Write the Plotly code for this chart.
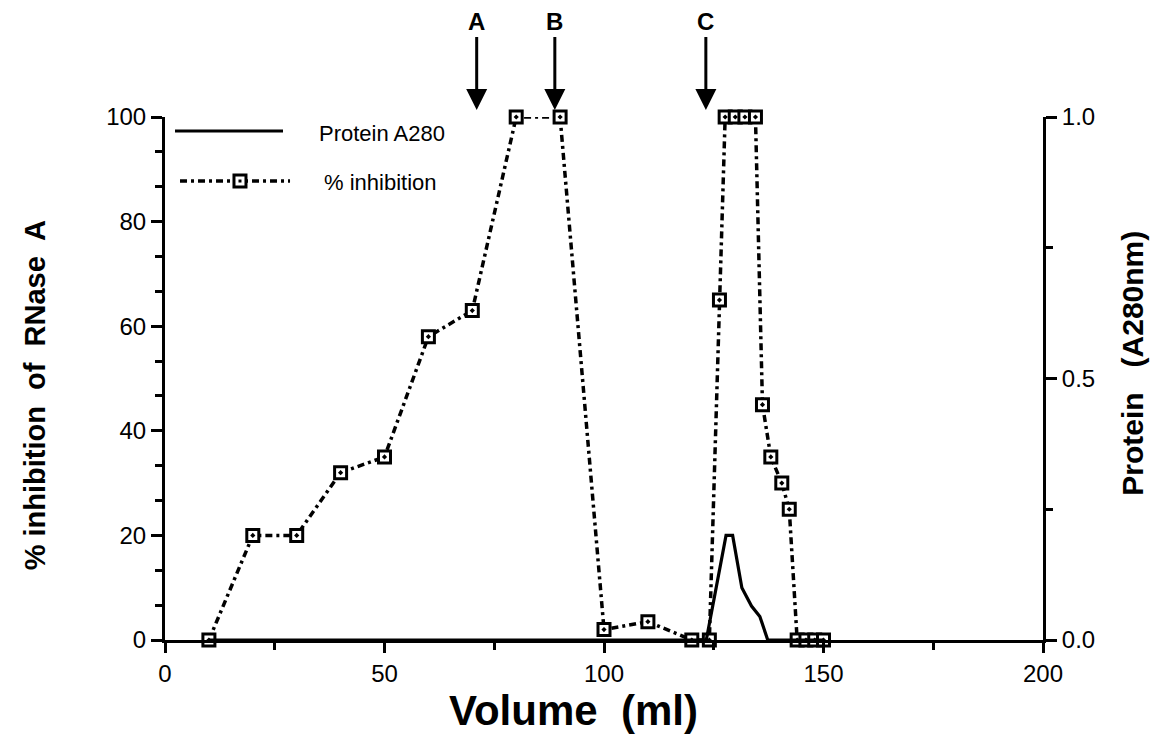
import plotly.graph_objects as go

# ---- data ----
inhib_x = [10, 20, 30, 40, 50, 60, 70, 80, 90, 100, 110, 120, 124, 126.3, 127.6, 129.9, 132.1, 134.5,
           136.1, 138, 140.5, 142.2, 144, 146, 148, 150]
inhib_y = [0, 20, 20, 32, 35, 58, 63, 100, 100, 2, 3.5, 0, 0, 65, 100, 100, 100, 100,
           45, 35, 30, 25, 0, 0, 0, 0]

protein_x = [10, 123.3, 127.8, 129.3, 131.4, 133.6, 135.5, 137.3, 150]
protein_y = [0, 0, 0.2, 0.2, 0.1, 0.065, 0.045, 0, 0]

arrow_x = [71, 88.8, 123.2]
arrow_labels = ["A", "B", "C"]

x_ticks = [0, 50, 100, 150, 200]
y_ticks = [0, 20, 40, 60, 80, 100]
y2_ticks = [0, 0.5, 1.0]

FONT = "Liberation Sans"
BLACK = "black"
DASH = "7px,4px,3px,4px"

fig = go.Figure()

fig.add_trace(go.Scatter(
    x=protein_x, y=protein_y, mode="lines", yaxis="y2",
    line=dict(color=BLACK, width=3.2), cliponaxis=False, showlegend=False,
    name="Protein A280"))

fig.add_trace(go.Scatter(
    x=inhib_x, y=inhib_y, mode="lines+markers",
    line=dict(color=BLACK, width=3.5, dash=DASH),
    marker=dict(symbol="square-dot", size=12, color="white",
                line=dict(color=BLACK, width=3)),
    cliponaxis=False, showlegend=False, name="% inhibition"))

axis_common = dict(showgrid=False, zeroline=False, showline=True, linecolor=BLACK,
                   linewidth=3, ticks="outside", tickcolor=BLACK, tickwidth=2.5,
                   tickfont=dict(family=FONT, size=24, color=BLACK))

fig.update_layout(
    width=1153, height=745,
    margin=dict(l=165, r=110, t=117, b=105),
    paper_bgcolor="white", plot_bgcolor="white",
    xaxis=dict(range=[0, 200], tickvals=x_ticks, ticklen=10,
               minor=dict(dtick=25, tick0=0, ticklen=7, tickwidth=2.5, tickcolor=BLACK, ticks="outside"),
               **axis_common),
    yaxis=dict(range=[0, 100], tickvals=y_ticks, ticklen=11,
               minor=dict(dtick=20 / 3, tick0=0, ticklen=7, tickwidth=2.5, tickcolor=BLACK, ticks="outside"),
               **axis_common),
    yaxis2=dict(range=[0, 1], tickvals=y2_ticks, tickformat=".1f", ticklen=11,
                overlaying="y", side="right",
                minor=dict(dtick=0.25, tick0=0, ticklen=7, tickwidth=2.5, tickcolor=BLACK, ticks="outside"),
                **axis_common),
)

ann = []
# axis titles
ann.append(dict(text="<b>Volume  (ml)</b>", xref="paper", yref="paper", x=0.465, y=-0.135,
                xanchor="center", yanchor="middle", showarrow=False,
                font=dict(family=FONT, size=42, color=BLACK)))
ann.append(dict(text="<b>% inhibition  of  RNase  A</b>", xref="paper", yref="paper", x=-0.148, y=0.468,
                xanchor="center", yanchor="middle", showarrow=False, textangle=-90,
                font=dict(family=FONT, size=29, color=BLACK)))
ann.append(dict(text="<b>Protein   (A280nm)</b>", xref="paper", yref="paper", x=1.1025, y=0.53,
                xanchor="center", yanchor="middle", showarrow=False, textangle=-90,
                font=dict(family=FONT, size=30, color=BLACK)))
# arrows
for xa, lab in zip(arrow_x, arrow_labels):
    ann.append(dict(text="<b>%s</b>" % lab, x=xa, xref="x", y=1.0134, yref="paper",
                    showarrow=True, ax=0, ay=-88, axref="pixel", ayref="pixel",
                    arrowhead=2, arrowsize=1.4, arrowwidth=3, arrowcolor=BLACK,
                    font=dict(family=FONT, size=24, color=BLACK)))
# legend text
ann.append(dict(text="Protein A280", xref="paper", yref="paper", x=0.1731, y=0.969,
                xanchor="left", yanchor="middle", showarrow=False,
                font=dict(family=FONT, size=22, color=BLACK)))
ann.append(dict(text="% inhibition", xref="paper", yref="paper", x=0.1788, y=0.874,
                xanchor="left", yanchor="middle", showarrow=False,
                font=dict(family=FONT, size=22, color=BLACK)))
fig.update_layout(annotations=ann)

shapes = [
    dict(type="line", xref="paper", yref="paper", x0=0.0114, x1=0.1344, y0=0.9732, y1=0.9732,
         line=dict(color=BLACK, width=3.2)),
    dict(type="line", xref="paper", yref="paper", x0=0.0171, x1=0.1424, y0=0.8776, y1=0.8776,
         line=dict(color=BLACK, width=3.5, dash=DASH)),
    dict(type="rect", xref="paper", yref="paper", xsizemode="pixel", ysizemode="pixel",
         xanchor=0.0854, yanchor=0.8776, x0=-6, x1=6, y0=-6, y1=6,
         fillcolor="white", line=dict(color=BLACK, width=3)),
    dict(type="rect", xref="paper", yref="paper", xsizemode="pixel", ysizemode="pixel",
         xanchor=0.0854, yanchor=0.8776, x0=-1.5, x1=1.5, y0=-1.5, y1=1.5,
         fillcolor=BLACK, line=dict(color=BLACK, width=0)),
]
fig.update_layout(shapes=shapes)

fig.write_html("out.html")
